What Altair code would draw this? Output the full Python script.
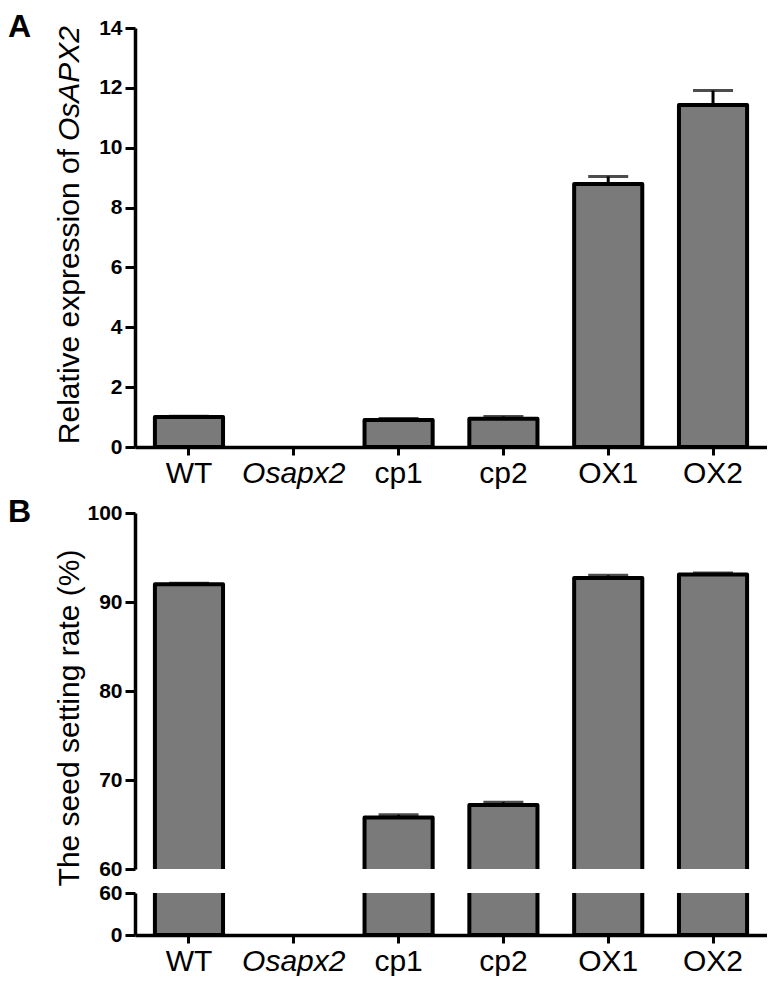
import altair as alt
import pandas as pd

categories = ["WT", "Osapx2", "cp1", "cp2", "OX1", "OX2"]
expr_mean = [1.0, 0.0, 0.9, 0.94, 8.79, 11.43]
expr_err = [0.03, 0.0, 0.05, 0.08, 0.25, 0.48]
seed_mean = [92.0, 0.0, 65.8, 67.2, 92.7, 93.1]
seed_err = [0.1, 0.0, 0.3, 0.3, 0.3, 0.15]

FONT = "Liberation Sans"
W = 632

dfA = pd.DataFrame({"cat": categories, "mean": expr_mean, "err": expr_err})
dfA["top"] = dfA["mean"] + dfA["err"]
dfB = pd.DataFrame({"cat": categories, "mean": seed_mean, "err": seed_err})
dfB["top"] = dfB["mean"] + dfB["err"]

xscale = alt.Scale(domain=categories, paddingInner=0.35, paddingOuter=0.19)
italic_expr = alt.expr("datum.value == 'Osapx2' ? 'italic' : 'normal'")

x_axis = alt.Axis(title=None, labelFontSize=30, labelFont=FONT, labelAngle=0,
                  tickSize=8, labelPadding=3, labelFontStyle=italic_expr,
                  labelColor="black", domainColor="black", tickColor="black",
                  domainWidth=3.5, tickWidth=3)


def yaxis(vals):
    return alt.Axis(title=None, values=vals, labelFontSize=21, labelFont=FONT,
                    labelFontWeight="bold", tickSize=10, labelPadding=3,
                    grid=False, labelColor="black", domainColor="black",
                    tickColor="black", domainWidth=3.5, tickWidth=3)


def bar_layers(df, yscale, yax, xax):
    base = alt.Chart(df)
    bars = base.transform_filter("datum.mean > 0").mark_bar(
        color="#7a7a7a", stroke="black", strokeWidth=4, strokeJoin="round", clip=True
    ).encode(
        x=alt.X("cat:N", scale=xscale, axis=xax, sort=categories),
        y=alt.Y("mean:Q", scale=yscale, axis=yax),
        y2=alt.datum(0),
    )
    rule = base.transform_filter("datum.err > 0").mark_rule(
        color="black", strokeWidth=3, clip=True
    ).encode(x=alt.X("cat:N", scale=xscale, sort=categories), y="mean:Q", y2="top:Q")
    cap = base.transform_filter("datum.err > 0").mark_tick(
        color="black", thickness=3, size=40, clip=True
    ).encode(x=alt.X("cat:N", scale=xscale, sort=categories), y="top:Q")
    return [bars, rule, cap]


def text_layer(txt, x, y, size, weight="normal", style="normal", angle=0,
               align="left", baseline="alphabetic", dx=0):
    return alt.Chart(pd.DataFrame({"t": [txt]})).mark_text(
        font=FONT, fontSize=size, fontWeight=weight, fontStyle=style,
        angle=angle, align=align, baseline=baseline, dx=dx, color="black"
    ).encode(text="t:N", x=alt.value(x), y=alt.value(y))


# Panel A
layersA = bar_layers(dfA, alt.Scale(domain=[0, 14], nice=False), yaxis(list(range(0, 15, 2))), x_axis)
layersA += [
    text_layer("A", -127, 9, 32, weight="bold"),
    text_layer("Relative expression of", -56, 121, 30, angle=270, align="right"),
    text_layer("OsAPX2", -56, 121, 30, style="italic", angle=270, align="left", dx=8),
]
chartA = alt.layer(*layersA).properties(width=W, height=419)

# Panel B upper
layersBu = bar_layers(dfB, alt.Scale(domain=[60, 100], nice=False),
                      yaxis([60, 70, 80, 90, 100]), None)
layersBu += [
    text_layer("B", -127, 9, 32, weight="bold"),
    text_layer("The seed setting rate (%)", -56, 205, 30, angle=270, align="center"),
]
chartBu = alt.layer(*layersBu).properties(width=W, height=356)

# Panel B lower
layersBl = bar_layers(dfB, alt.Scale(domain=[0, 60], nice=False), yaxis([0, 60]), x_axis)
chartBl = alt.layer(*layersBl).properties(width=W, height=42)

chartB = alt.vconcat(chartBu, chartBl, spacing=24, bounds="flush")

chart = alt.vconcat(chartA, chartB, spacing=66, bounds="flush").properties(
    padding={"left": 0, "top": 3, "right": 0, "bottom": 0},
    background="white",
).configure_view(stroke=None)

chart.save("out.html", embed_options={"renderer": "svg", "actions": False})
